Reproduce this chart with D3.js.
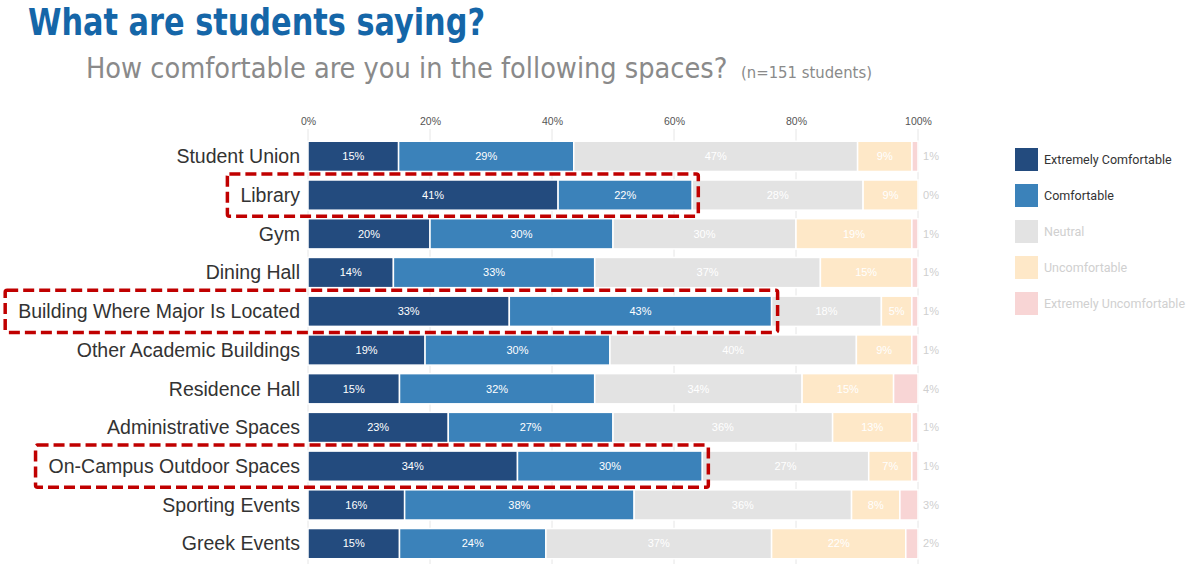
<!DOCTYPE html>
<html>
<head>
<meta charset="utf-8">
<script src="https://cdn.jsdelivr.net/npm/d3@7"></script>
<style>
  body { margin: 0; background: #fff; }
  svg { display: block; }
</style>
</head>
<body>
<div id="vis"></div>
<script>
const categories = ["Student Union", "Library", "Gym", "Dining Hall", "Building Where Major Is Located",
  "Other Academic Buildings", "Residence Hall", "Administrative Spaces", "On-Campus Outdoor Spaces",
  "Sporting Events", "Greek Events"];
const levels = ["Extremely Comfortable", "Comfortable", "Neutral", "Uncomfortable", "Extremely Uncomfortable"];
const extremelyComfortable = [15, 41, 20, 14, 33, 19, 15, 23, 34, 16, 15];
const comfortable = [29, 22, 30, 33, 43, 30, 32, 27, 30, 38, 24];
const neutral = [47, 28, 30, 37, 18, 40, 34, 36, 27, 36, 37];
const uncomfortable = [9, 9, 19, 15, 5, 9, 15, 13, 7, 8, 22];
const extremelyUncomfortable = [1, 0, 1, 1, 1, 1, 4, 1, 1, 3, 2];
const highlighted = ["Library", "Building Where Major Is Located", "On-Campus Outdoor Spaces"];
const tickValues = [0, 0.2, 0.4, 0.6, 0.8, 1];

const colors = ["#234b7e", "#3b82ba", "#e3e3e3", "#fee8c8", "#f8d5d5"];
const legendText = ["#333", "#333", "#d0d0d0", "#d0d0d0", "#d0d0d0"];

const seriesValues = [extremelyComfortable, comfortable, neutral, uncomfortable, extremelyUncomfortable];
const rows = categories.map((c, i) => {
  const row = { category: c };
  levels.forEach((l, j) => row[l] = seriesValues[j][i]);
  return row;
});

const width = 1200, height = 578;
const narrow = "'Liberation Sans Narrow', 'DejaVu Sans Condensed', sans-serif";
const svg = d3.select("#vis").append("svg")
  .attr("width", width)
  .attr("height", height);

// titles (title squeezed to mimic the condensed face)
svg.append("text")
  .attr("x", 28).attr("y", 35)
  .attr("font-family", narrow)
  .attr("font-weight", "bold")
  .attr("font-size", 38)
  .attr("fill", "#1566a8")
  .attr("textLength", 457)
  .attr("lengthAdjust", "spacingAndGlyphs")
  .text("What are students saying?");

svg.append("text")
  .attr("x", 86).attr("y", 78)
  .attr("font-family", narrow)
  .attr("font-size", 28.6)
  .attr("fill", "#8a8a8a")
  .text("How comfortable are you in the following spaces?");
svg.append("text")
  .attr("x", 741).attr("y", 78)
  .attr("font-family", narrow)
  .attr("font-size", 16.5)
  .attr("fill", "#8a8a8a")
  .text("(n=151 students)");

const x = d3.scaleLinear().domain([0, 1]).range([308, 918]);
const y = d3.scaleBand().domain(categories).range([137, 563])
  .paddingInner(0.22).paddingOuter(0.11);

// grid + top axis
svg.append("g")
  .selectAll("line")
  .data(tickValues)
  .join("line")
  .attr("x1", d => x(d)).attr("x2", d => x(d))
  .attr("y1", 129).attr("y2", 564)
  .attr("stroke", "#e6e6e6");

const axis = svg.append("g")
  .attr("transform", "translate(0,129)")
  .call(d3.axisTop(x).tickValues(tickValues).tickFormat(d3.format(".0%")).tickSize(0).tickPadding(4));
axis.select(".domain").remove();
axis.selectAll("text")
  .attr("font-family", "'Liberation Sans', Arial, sans-serif")
  .attr("font-size", 10.5)
  .attr("fill", "#555");

// stacked bars (normalized per row)
const stack = d3.stack().keys(levels).offset(d3.stackOffsetExpand);
const series = stack(rows);

const groups = svg.append("g")
  .selectAll("g")
  .data(series)
  .join("g")
  .attr("fill", (d, i) => colors[i]);

groups.selectAll("rect")
  .data(d => d)
  .join("rect")
  .attr("x", d => x(d[0]))
  .attr("y", d => y(d.data.category))
  .attr("width", d => Math.max(0, x(d[1]) - x(d[0])))
  .attr("height", y.bandwidth())
  .attr("stroke", "#fff")
  .attr("stroke-width", 1.5);

// value labels
groups.each(function (s, i) {
  const key = levels[i];
  d3.select(this).selectAll("text")
    .data(s)
    .join("text")
    .attr("x", d => i === 4 ? x(1) + 13 : (x(d[0]) + x(d[1])) / 2)
    .attr("y", d => y(d.data.category) + y.bandwidth() / 2)
    .attr("dy", "0.35em")
    .attr("text-anchor", "middle")
    .attr("font-family", "'Liberation Sans', Arial, sans-serif")
    .attr("font-size", 11)
    .attr("fill", i === 4 ? "#cfcfcf" : "#fff")
    .text(d => d.data[key] + "%");
});

// category labels
const labels = svg.append("g")
  .selectAll("text")
  .data(categories)
  .join("text")
  .attr("x", 300)
  .attr("y", d => y(d) + y.bandwidth() / 2)
  .attr("dy", "0.35em")
  .attr("text-anchor", "end")
  .attr("font-family", "'Liberation Sans', Arial, sans-serif")
  .attr("font-size", 19.5)
  .attr("fill", "#333")
  .text(d => d);

// highlight boxes around label + comfortable share
labels.filter(d => highlighted.includes(d)).each(function (d) {
  const bb = this.getBBox();
  const row = series[1].find(p => p.data.category === d);
  const x0 = bb.x - 13, x1 = x(row[1]) + 6;
  svg.append("rect")
    .attr("x", x0)
    .attr("y", y(d) - 6)
    .attr("width", x1 - x0)
    .attr("height", y.bandwidth() + 12)
    .attr("rx", 2)
    .attr("fill", "none")
    .attr("stroke", "#c00000")
    .attr("stroke-width", 3.5)
    .attr("stroke-dasharray", "11,5");
});

// legend
const legend = svg.append("g")
  .selectAll("g")
  .data(levels)
  .join("g")
  .attr("transform", (d, i) => `translate(1015,${148 + i * 36})`);
legend.append("rect")
  .attr("width", 23).attr("height", 23)
  .attr("fill", (d, i) => colors[i]);
legend.append("text")
  .attr("x", 29).attr("y", 12)
  .attr("dy", "0.35em")
  .attr("font-family", "Roboto, 'Liberation Sans', sans-serif")
  .attr("font-size", 12.5)
  .attr("fill", (d, i) => legendText[i])
  .text(d => d);
</script>
</body>
</html>
